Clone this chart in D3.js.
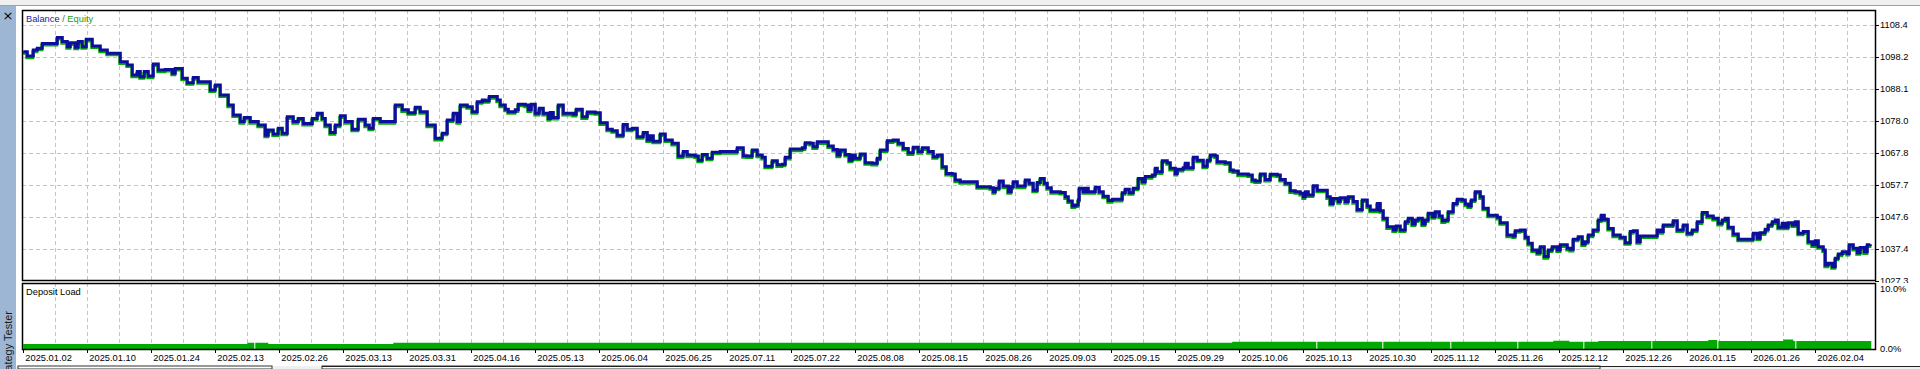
<!DOCTYPE html>
<html>
<head>
<meta charset="utf-8">
<script src="https://cdn.jsdelivr.net/npm/d3@7/dist/d3.min.js"></script>
<style>
html,body{margin:0;padding:0;background:#fff;overflow:hidden}
svg{display:block;font-family:"Liberation Sans",Arial,sans-serif}
</style>
</head>
<body>
<svg width="1920" height="369"></svg>
<script>
// deal number along the x axis (the tester plots per deal, not per day)
var deals = [0,4,10,14,19,29,34,39,44,47,52,55,59,63,69,77,84,92,97,104,109,114,117,121,125,130,135,142,149,152,159,164,170,175,182,187,192,197,205,210,217,221,227,235,242,245,250,255,259,264,270,275,280,285,289,294,299,302,307,312,317,322,329,335,342,346,350,357,365,372,379,385,392,397,404,412,419,424,430,434,437,444,449,454,459,
  462,466,474,477,482,485,492,495,502,505,508,512,516,520,525,527,530,535,540,550,553,559,564,572,577,584,589,594,600,604,609,614,620,624,627,630,637,642,649,655,660,664,672,675,679,684,689,697,712,714,720,724,729,734,739,742,749,754,759,762,767,779,782,787,790,794,802,805,810,814,817,822,826,829,832,837,842,849,854,857,864,870,875,880,885,890,895,899,905,910,914,919,923,
  929,932,937,952,954,967,970,972,976,980,985,988,990,994,1000,1002,1006,1010,1014,1017,1021,1024,1028,1037,1042,1045,1049,1052,1055,1056,1060,1062,1065,1070,1072,1076,1080,1085,1089,1094,1099,1102,1106,1110,1115,1119,1122,1129,1132,1134,1139,1144,1147,1152,1154,1160,1162,1165,1170,1174,1180,1184,1187,1192,1194,1202,1207,1210,1215,1225,1229,1232,1237,1242,1247,1254,1257,1262,1267,1272,1277,1280,1282,1285,1290,1294,1300,1304,1307,1310,1315,1317,1322,1325,1330,1334,1339,1344,1347,1350,1354,1357,1360,1364,1370,1373,1377,
  1382,1385,1389,1392,1395,1399,1402,1405,1409,1412,1416,1419,1422,1425,1430,1434,1439,1442,1445,1448,1452,1457,1460,1465,1474,1477,1484,1490,1492,1497,1502,1505,1509,1514,1517,1521,1525,1529,1534,1537,1544,1547,1550,1555,1559,1562,1565,1570,1575,1578,1581,1585,1590,1597,1602,1607,1610,1614,1617,1630,1634,1637,1640,1645,1650,1654,1659,1660,1664,1669,1674,1679,1684,1690,1695,1699,1702,1705,1710,1715,1725,1730,1734,1737,1742,1745,1749,1752,1755,1759,1762,1765,1769,1772,1775,1780,1785,1789,1792,1795,1800,1802,1805,1809,1812,1815,1819,1824,1826,1830,1834,1837,1841,1844,1847];

var balance = [1099.8,1098.4,1100.3,1100.9,1102.4,1102.4,1104.3,1103.0,1101.4,1102.6,1101.2,1103.0,1101.4,1103.7,1101.6,1100.3,1099.3,1099.3,1096.6,1095.6,1092.4,1093.5,1091.9,1093.5,1092.1,1095.9,1094.0,1094.2,1093.0,1094.5,1091.4,1090.0,1091.6,1090.3,1090.3,1087.7,1089.3,1086.1,1082.9,1079.8,1077.7,1079.0,1077.7,1076.6,1073.4,1075.0,1073.8,1075.6,1074.0,1079.2,1077.7,1078.7,1077.1,1077.1,1078.7,1080.3,1078.7,1076.6,1074.2,1076.6,1079.5,1077.7,1075.3,1078.4,1076.6,1075.6,1078.7,1077.7,1077.7,1082.9,1081.4,1080.5,1082.2,1080.8,1076.6,1072.4,1074.0,1078.2,1080.3,1077.7,1082.9,1082.4,1080.8,1084.0,1084.5,
  1084.3,1085.6,1084.5,1082.9,1081.6,1080.8,1081.4,1083.2,1082.9,1081.4,1083.2,1080.3,1081.9,1080.3,1078.7,1080.6,1079.0,1082.9,1080.3,1080.0,1081.6,1079.2,1080.7,1080.5,1077.3,1075.3,1074.8,1073.4,1076.8,1075.3,1075.6,1072.9,1074.2,1071.9,1073.2,1071.5,1073.8,1071.9,1070.8,1066.8,1068.2,1067.1,1066.8,1065.5,1067.3,1066.1,1068.0,1068.2,1068.2,1069.4,1066.9,1066.8,1068.7,1067.1,1066.4,1063.6,1065.3,1064.0,1064.2,1066.4,1069.0,1069.4,1071.0,1070.8,1069.7,1071.3,1071.3,1070.0,1068.9,1067.1,1068.7,1067.3,1065.5,1067.1,1066.1,1067.4,1064.7,1064.5,1066.1,1068.7,1071.6,1071.9,1070.8,1069.2,1067.8,1069.6,1068.2,1069.4,1068.2,1066.6,1067.1,1063.4,1061.3,
  1061.1,1059.2,1058.7,1058.7,1057.1,1056.8,1055.5,1056.6,1058.9,1057.3,1055.5,1057.1,1058.7,1057.3,1057.3,1059.2,1058.2,1056.0,1058.4,1059.7,1058.2,1056.8,1055.5,1055.3,1053.9,1052.6,1051.0,1051.3,1052.9,1056.6,1055.5,1056.6,1055.5,1055.5,1056.9,1055.5,1054.1,1052.7,1053.1,1053.1,1055.2,1056.3,1055.2,1056.6,1059.7,1058.7,1060.3,1060.8,1062.9,1061.8,1065.3,1064.7,1062.9,1061.3,1062.6,1063.1,1064.5,1063.1,1066.4,1065.5,1063.6,1065.5,1067.1,1066.8,1065.0,1064.7,1062.4,1062.1,1061.1,1060.8,1059.2,1058.9,1061.1,1059.4,1061.0,1060.8,1059.4,1058.2,1055.8,1055.5,1055.0,1053.9,1055.5,1054.5,1057.4,1056.0,1056.0,1053.9,1051.8,1053.4,1052.4,1053.6,1052.4,1053.9,1052.4,1049.9,1052.9,1051.0,1049.7,1049.7,1051.8,1049.5,1047.1,1044.4,1043.4,1044.7,1043.4,
  1046.0,1047.1,1045.3,1046.6,1047.1,1045.3,1046.6,1048.7,1047.6,1049.2,1047.8,1046.3,1046.6,1049.2,1051.8,1053.1,1052.9,1051.6,1051.0,1052.9,1055.5,1053.9,1050.3,1048.1,1047.4,1045.7,1041.8,1041.5,1043.2,1043.4,1041.1,1039.2,1037.1,1036.2,1038.1,1035.0,1037.1,1038.1,1037.1,1038.7,1037.6,1037.3,1040.5,1041.3,1039.0,1039.7,1041.8,1043.4,1046.6,1048.1,1046.8,1043.9,1041.8,1041.1,1039.4,1042.9,1043.2,1039.7,1041.5,1041.5,1043.4,1042.9,1045.0,1045.0,1046.3,1043.4,1043.4,1045.0,1042.4,1043.4,1046.0,1048.9,1047.8,1047.1,1045.5,1046.6,1047.1,1044.3,1042.1,1040.5,1040.5,1042.4,1040.8,1042.5,1043.6,1045.0,1046.0,1046.6,1044.3,1045.5,1044.3,1045.7,1045.0,1046.0,1042.4,1042.9,1039.7,1038.7,1040.0,1038.1,1037.1,1032.3,1032.9,1031.8,1034.5,1035.8,1036.5,1036.0,1038.7,1037.6,1036.2,1037.9,1036.5,1038.7,1038.9];

// deposit load (%), stepped from each listed deal
var loadDeals  = [0,224,231,232,245,370,1209,1293,1294,1359,1360,1427,1428,1494,1495,1530,1546,1560,1561,1575,1628,1629,1685,1694,1695,1760,1770,1772,1773,1848];
var loadValues = [0.83,1.05,0,1.05,0.83,1.05,1.22,0,1.22,0,1.22,0,1.22,0,1.22,1.38,1.22,0,1.22,1.33,0,1.33,1.5,0,1.33,1.6,1.33,0,1.33,1.33];

var yTicks = [1027.3,1037.4,1047.6,1057.7,1067.8,1078.0,1088.1,1098.2,1108.4];
var loadTicks = [0,10];
var dateLabels = ["2025.01.02","2025.01.10","2025.01.24","2025.02.13","2025.02.26","2025.03.13","2025.03.31","2025.04.16","2025.05.13","2025.06.04","2025.06.25","2025.07.11","2025.07.22","2025.08.08","2025.08.15","2025.08.26","2025.09.03","2025.09.15","2025.09.29","2025.10.06","2025.10.13","2025.10.30","2025.11.12","2025.11.26","2025.12.12","2025.12.26","2026.01.15","2026.01.26","2026.02.04"];

draw();

function draw(){
  var svg = d3.select("svg");
  var left = 22, right = 1875, top = 10, mainBottom = 280, subTop = 283, subBottom = 349;
  var fs = "9.3px";

  var x = d3.scaleLinear().domain([0,1852]).range([23.3,1875.3]);
  var y = d3.scaleLinear().domain([1027.3,1108.4]).range([280.9,24.5]);
  var yl = d3.scaleLinear().domain([0,10]).range([349,289]);
  var px = function(v){ return Math.round(v)+0.5; };

  // window chrome
  svg.append("rect").attr("x",0).attr("y",0).attr("width",1920).attr("height",5).attr("fill","#f0f0f0");
  svg.append("line").attr("x1",0).attr("x2",1920).attr("y1",5.5).attr("y2",5.5).attr("stroke","#a0a0a0");
  svg.append("rect").attr("x",0).attr("y",6).attr("width",16).attr("height",363).attr("fill","#9db6d3");
  svg.append("text").attr("x",8).attr("y",20).attr("text-anchor","middle")
     .attr("font-size","13px").attr("font-family","DejaVu Sans, sans-serif").attr("fill","#000").text("×");
  svg.append("text").attr("transform","translate(12,311) rotate(-90)").attr("text-anchor","end")
     .attr("font-size","11px").attr("fill","#1a1a1a").text("Strategy Tester");

  svg.append("rect").attr("x",16).attr("y",366).attr("width",1904).attr("height",3).attr("fill","#f0f0f0");
  [[18,272],[322,1600]].forEach(function(b){
    svg.append("rect").attr("x",b[0]).attr("y",366).attr("width",b[1]-b[0]).attr("height",3)
       .attr("fill","#fff").attr("stroke","#333").attr("stroke-width",1);
  });
  svg.append("line").attr("x1",322).attr("x2",1920).attr("y1",366.5).attr("y2",366.5).attr("stroke","#222");

  // grids
  var grid = svg.append("g").attr("stroke","#c4c4c4").attr("stroke-dasharray","4,3");
  grid.selectAll("line.h").data(yTicks.slice(1)).enter().append("line")
      .attr("x1",left).attr("x2",right).attr("y1",function(d){return px(y(d));}).attr("y2",function(d){return px(y(d));});
  var vg = d3.range(32,1850,32);
  grid.selectAll("line.v").data(vg).enter().append("line")
      .attr("x1",function(d){return px(x(d));}).attr("x2",function(d){return px(x(d));})
      .attr("y1",top).attr("y2",mainBottom);
  grid.selectAll("line.v2").data(vg).enter().append("line")
      .attr("x1",function(d){return px(x(d));}).attr("x2",function(d){return px(x(d));})
      .attr("y1",subTop).attr("y2",subBottom);

  // equity + balance
  var pts = deals.map(function(d,i){ return [d,balance[i]]; });
  var line = d3.line().x(function(p){return x(p[0]);}).y(function(p){return y(p[1]);}).curve(d3.curveStepAfter);
  svg.append("path").datum(pts).attr("d",line).attr("fill","none")
     .attr("stroke","#00aa00").attr("stroke-width",3).attr("transform","translate(-0.5,1.6)");
  svg.append("path").datum(pts).attr("d",line).attr("fill","none")
     .attr("stroke","#0e0e9c").attr("stroke-width",3);

  // deposit load
  var lp = loadDeals.map(function(d,i){ return [d,loadValues[i]]; });
  var area = d3.area().x(function(p){return x(p[0]);}).y0(yl(0)).y1(function(p){return yl(p[1]);}).curve(d3.curveStepAfter);
  svg.append("path").datum(lp).attr("d",area).attr("fill","#00aa00");

  // frames
  svg.append("rect").attr("x",left+0.5).attr("y",top+0.5).attr("width",right-left).attr("height",mainBottom-top)
     .attr("fill","none").attr("stroke","#000").attr("stroke-width",1.5);
  svg.append("rect").attr("x",left+0.5).attr("y",subTop+0.5).attr("width",right-left).attr("height",subBottom-subTop)
     .attr("fill","none").attr("stroke","#000").attr("stroke-width",1.5);

  // right axis labels
  svg.append("clipPath").attr("id","mainClip").append("rect").attr("x",0).attr("y",0).attr("width",1920).attr("height",subTop);
  var ya = svg.append("g").attr("clip-path","url(#mainClip)");
  ya.selectAll("line").data(yTicks).enter().append("line")
    .attr("x1",right).attr("x2",right+4).attr("y1",function(d){return px(y(d));}).attr("y2",function(d){return px(y(d));})
    .attr("stroke","#000");
  ya.selectAll("text").data(yTicks).enter().append("text")
    .attr("x",right+5).attr("y",function(d){return y(d);}).attr("dy","0.36em")
    .attr("font-size",fs).attr("fill","#000").text(function(d){return d3.format(".1f")(d);});

  svg.selectAll("text.load").data(loadTicks).enter().append("text").attr("class","load")
    .attr("x",right+5).attr("y",function(d){return yl(d);}).attr("dy","0.36em")
    .attr("font-size",fs).attr("fill","#000").text(function(d){return d3.format(".1f")(d)+"%";});

  // date axis
  var xa = svg.append("g");
  xa.selectAll("line").data(dateLabels).enter().append("line")
    .attr("x1",function(d,i){return px(x(i*64));}).attr("x2",function(d,i){return px(x(i*64));})
    .attr("y1",subBottom).attr("y2",subBottom+4).attr("stroke","#000");
  xa.selectAll("text").data(dateLabels).enter().append("text")
    .attr("x",function(d,i){return x(i*64)+2;}).attr("y",360.5)
    .attr("font-size",fs).attr("fill","#000").text(function(d){return d;});

  // captions
  var lg = svg.append("text").attr("x",26).attr("y",21.5).attr("font-size",fs);
  lg.append("tspan").attr("fill","#1a1aa0").text("Balance");
  lg.append("tspan").attr("fill","#5a5a5a").text(" / ");
  lg.append("tspan").attr("fill","#14a014").text("Equity");
  svg.append("text").attr("x",26).attr("y",295).attr("font-size",fs).attr("fill","#000").text("Deposit Load");
}
</script>
</body>
</html>
